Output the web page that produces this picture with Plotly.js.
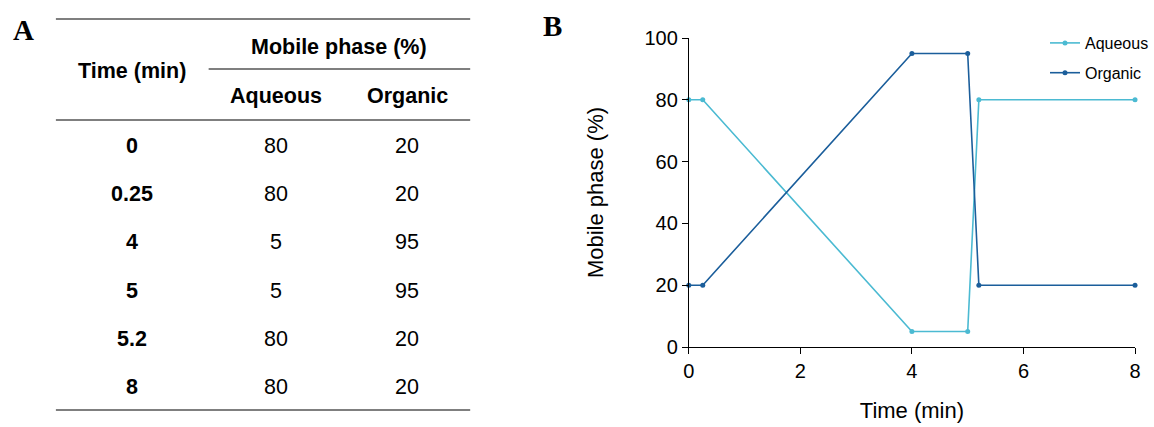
<!DOCTYPE html>
<html>
<head>
<meta charset="utf-8">
<script src="https://cdn.plot.ly/plotly-3.0.1.min.js"></script>
<style>html,body{margin:0;padding:0;background:#fff;}#chart{width:1154px;height:427px;}</style>
</head>
<body>
<div id="chart"></div>
<script>
// ---- data ----
const timeMin = [0, 0.25, 4, 5, 5.2, 8];
const timeLabels = ["0", "0.25", "4", "5", "5.2", "8"];
const aqueous = [80, 80, 5, 5, 80, 80];
const organic = [20, 20, 95, 95, 20, 20];
const seriesNames = ["Aqueous", "Organic"];
const tableHeaders = ["Time (min)", "Mobile phase (%)"];
const xTickVals = [0, 2, 4, 6, 8];
const yTickVals = [0, 20, 40, 60, 80, 100];

// ---- layout helpers ----
const W = 1154, H = 427;
const px = v => v / W;
const py = v => 1 - v / H;
const FONT = "Liberation Sans, Arial, sans-serif";
const aqColor = "#4BBAD2";
const orgColor = "#1B5E9B";

const traces = [
  {x: timeMin, y: aqueous, name: seriesNames[0], type: "scatter", mode: "lines+markers",
   line: {color: aqColor, width: 1.6}, marker: {color: aqColor, size: 5}, cliponaxis: false, legendgroup: "a"},
  {x: timeMin, y: organic, name: seriesNames[1], type: "scatter", mode: "lines+markers",
   line: {color: orgColor, width: 1.6}, marker: {color: orgColor, size: 5}, cliponaxis: false, legendgroup: "b"}
];

// ---- table (panel A) built from arrays ----
const annotations = [];
const shapes = [];
const tblLeft = 56, tblRight = 471;
const colTime = 132, colAq = 276, colOrg = 408;
const rowStart = 146, rowStep = 48.2;
const tfont = {family: FONT, size: 21.5, color: "#000"};
function ann(text, x, y, font, extra) {
  annotations.push(Object.assign({text: text, x: px(x), y: py(y), xref: "paper", yref: "paper",
    showarrow: false, xanchor: "center", yanchor: "middle", font: font}, extra || {}));
}
ann("<b>" + tableHeaders[0] + "</b>", colTime, 71, tfont);
ann("<b>" + tableHeaders[1] + "</b>", 340, 47, tfont);
ann("<b>" + seriesNames[0] + "</b>", colAq, 96, tfont);
ann("<b>" + seriesNames[1] + "</b>", colOrg, 96, tfont);
timeLabels.forEach((t, i) => {
  const y = rowStart + i * rowStep;
  ann("<b>" + t + "</b>", colTime, y, tfont);
  ann(String(aqueous[i]), colAq, y, tfont);
  ann(String(organic[i]), colOrg, y, tfont);
});
function hline(x0, x1, y) {
  shapes.push({type: "line", xref: "paper", yref: "paper", x0: px(x0), x1: px(x1), y0: py(y), y1: py(y),
    line: {color: "#555", width: 1.5}});
}
hline(tblLeft, tblRight, 19);
hline(209, tblRight, 69);
hline(tblLeft, tblRight, 120);
hline(tblLeft, tblRight, 410);

// panel letters
ann("<b>A</b>", 24, 30, {family: "Liberation Serif, Times New Roman, serif", size: 29, color: "#000"});
ann("<b>B</b>", 553, 26, {family: "Liberation Serif, Times New Roman, serif", size: 29, color: "#000"});

const layout = {
  width: W, height: H,
  margin: {l: 0, r: 0, t: 0, b: 0},
  paper_bgcolor: "#fff", plot_bgcolor: "#fff",
  font: {family: FONT, color: "#000"},
  showlegend: true,
  legend: {x: px(1047), y: py(26), xanchor: "left", yanchor: "top", bgcolor: "rgba(0,0,0,0)",
    font: {family: FONT, size: 16, color: "#000"}, traceorder: "grouped", tracegroupgap: 6, itemwidth: 30},
  xaxis: {domain: [px(690), px(1137)], range: [0, 8], tickvals: xTickVals, showgrid: false, zeroline: false,
    showline: true, linecolor: "#000", linewidth: 1, ticks: "outside", ticklen: 6, tickcolor: "#000",
    tickfont: {family: FONT, size: 20, color: "#000"}, automargin: false,
    title: {text: "Time (min)", font: {family: FONT, size: 22, color: "#000"}, standoff: 21}},
  yaxis: {domain: [py(347), py(38)], range: [0, 100], tickvals: yTickVals, showgrid: false, zeroline: false,
    showline: true, linecolor: "#000", linewidth: 1, ticks: "outside", ticklen: 6, tickcolor: "#000",
    tickfont: {family: FONT, size: 20, color: "#000"}, automargin: false,
    title: {text: "Mobile phase (%)", font: {family: FONT, size: 22, color: "#000"}, standoff: 34}},
  annotations: annotations,
  shapes: shapes
};

Plotly.newPlot("chart", traces, layout, {displayModeBar: false, staticPlot: true});
</script>
</body>
</html>
